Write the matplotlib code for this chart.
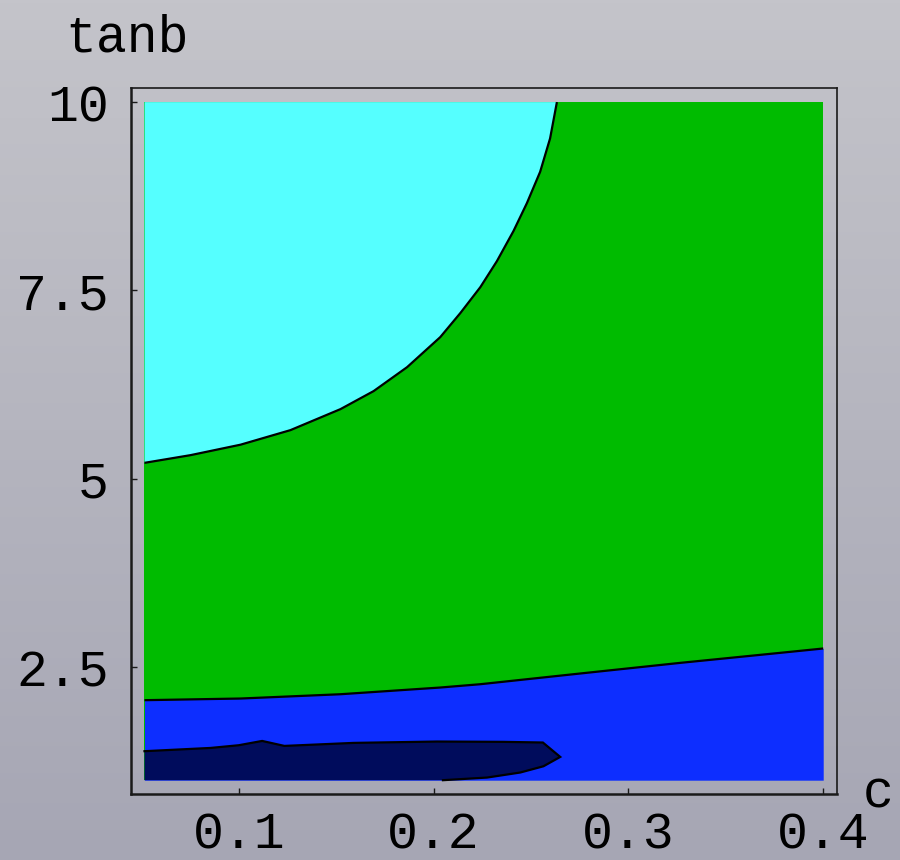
import numpy as np
import matplotlib
matplotlib.use("Agg")
import matplotlib.pyplot as plt

# ---- data ----
x_min, x_max = 0.0516, 0.4
y_min, y_max = 1.0, 10.0

# cyan / green boundary
cyan_x = [0.0516, 0.0752, 0.1009, 0.1265, 0.1522, 0.1692, 0.1864, 0.2034,
          0.2137, 0.2240, 0.2325, 0.2410, 0.2479, 0.2547, 0.2598, 0.2633]
cyan_y = [5.212, 5.314, 5.453, 5.646, 5.925, 6.164, 6.482, 6.880,
          7.199, 7.544, 7.889, 8.288, 8.659, 9.075, 9.518, 10.0]

# green / blue boundary
gb_x = [0.0516, 0.1009, 0.1522, 0.2034, 0.2240, 0.2752, 0.3265, 0.3778, 0.4]
gb_y = [2.062, 2.084, 2.141, 2.230, 2.274, 2.416, 2.557, 2.690, 2.748]

# dark navy region outline (contour part)
navy_x = [0.0516, 0.0855, 0.1000, 0.1120, 0.1234, 0.1590, 0.2017, 0.2357,
          0.2561, 0.2650, 0.2564, 0.2445, 0.2274, 0.2048]
navy_y = [1.385, 1.428, 1.464, 1.521, 1.455, 1.495, 1.513, 1.509,
          1.500, 1.309, 1.185, 1.102, 1.035, 1.000]

x_ticks = [0.1, 0.2, 0.3, 0.4]
x_ticklabels = ["0.1", "0.2", "0.3", "0.4"]
y_ticks = [2.5, 5, 7.5, 10]
y_ticklabels = ["2.5", "5", "7.5", "10"]

c_cyan = "#55FFFF"
c_green = "#00BB00"
c_blue = "#0D2EFF"
c_navy = "#000C5C"

W, H = 900, 860
fig = plt.figure(figsize=(W / 100, H / 100), dpi=100)

# background gradient
bg = fig.add_axes([0, 0, 1, 1], zorder=-10)
top = np.array([196, 196, 202]) / 255.0
bot = np.array([166, 166, 180]) / 255.0
t = np.linspace(0, 1, 256)[:, None]
grad = top[None, :] * (1 - t) + bot[None, :] * t
bg.imshow(grad[:, None, :], aspect="auto", extent=[0, 1, 0, 1], origin="upper")
bg.set_axis_off()

ax_l, ax_r = 131 / W, 836.7 / W
ax_b, ax_t = (H - 794) / H, (H - 88.3) / H
ax = fig.add_axes([ax_l, ax_b, ax_r - ax_l, ax_t - ax_b])
ax.set_facecolor("none")

padx = 13.5 / 1950.0
pady = 13.8 / 75.33
ax.set_xlim(x_min - padx, x_max + padx)
ax.set_ylim(y_min - pady, y_max + pady)

font = ["Liberation Mono", "DejaVu Sans Mono"]
fs = 37

# regions
ax.fill_between([x_min, x_max], y_min, y_max, color=c_green, lw=0, zorder=1)
ax.fill_between(gb_x, y_min, gb_y, color=c_blue, lw=0, zorder=2)
ax.fill(cyan_x + [x_min], cyan_y + [y_max], color=c_cyan, lw=0, zorder=2)
ax.fill(navy_x + [x_min], navy_y + [y_min], color=c_navy, lw=0, zorder=3)

# contour lines
ax.plot(cyan_x, cyan_y, color="black", lw=1.6, zorder=4, solid_capstyle="butt",
        solid_joinstyle="round")
ax.plot(gb_x, gb_y, color="black", lw=1.6, zorder=4, solid_capstyle="butt",
        solid_joinstyle="round")
ax.plot(navy_x, navy_y, color="black", lw=1.6, zorder=4, solid_joinstyle="miter")

# frame
for side in ["left", "bottom"]:
    ax.spines[side].set_linewidth(1.8)
    ax.spines[side].set_color("#1a1a1a")
for side in ["top", "right"]:
    ax.spines[side].set_linewidth(1.2)
    ax.spines[side].set_color("#1a1a1a")

ax.set_xticks(x_ticks)
ax.set_xticklabels(x_ticklabels)
ax.set_yticks(y_ticks)
ax.set_yticklabels(y_ticklabels)
ax.tick_params(axis="y", direction="in", length=4, width=1, color="#1a1a1a",
               labelsize=fs, pad=16)
ax.tick_params(axis="x", direction="in", length=4, width=1, color="#1a1a1a",
               labelsize=fs, pad=12)
for lab in ax.get_xticklabels() + ax.get_yticklabels():
    lab.set_family(font)
    lab.set_color("black")

fig.text(65 / W, 1 - 51 / H, "tanb", fontsize=fs, family=font, ha="left",
         va="baseline", color="black")
fig.text(863 / W, 1 - 807 / H, "c", fontsize=fs, family=font, ha="left",
         va="baseline", color="black")

fig.savefig("out.png", dpi=100)
